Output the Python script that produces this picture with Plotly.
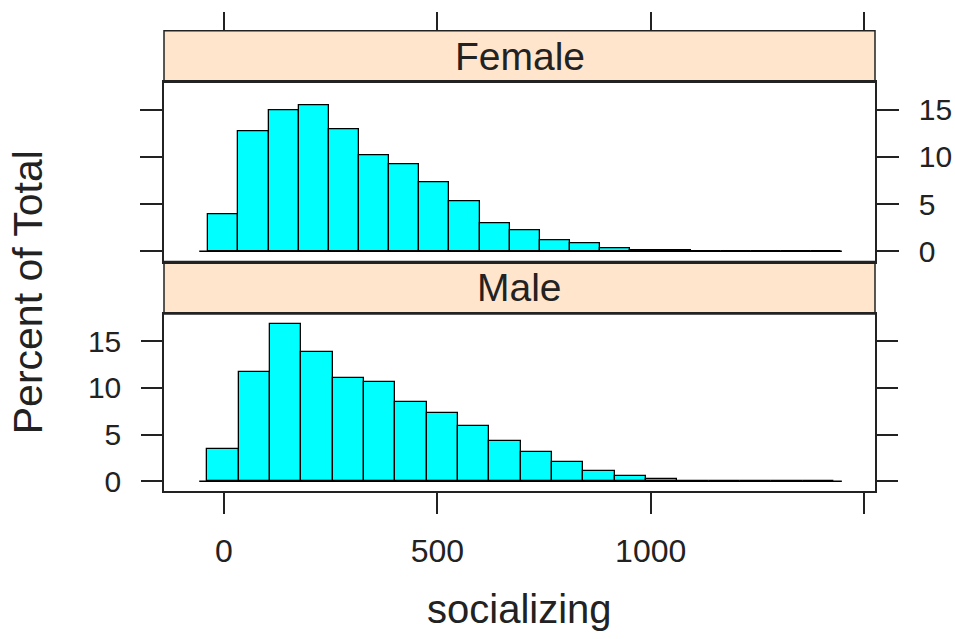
import plotly.graph_objects as go

# ---------------- data ----------------
female_first_edge = -36.8
female_bin_width = 70.66
female_pct = [3.92, 12.68, 14.90, 15.43, 12.92, 10.20, 9.25, 7.31, 5.33, 2.97,
              2.26, 1.13, 0.85, 0.32, 0.08, 0.08, 0.0, 0.05, 0.05, 0.05, 0.0]

male_first_edge = -39.1
male_bin_width = 73.45
male_pct = [3.43, 11.65, 16.83, 13.85, 11.04, 10.59, 8.49, 7.26, 5.90, 4.28,
            3.14, 2.11, 1.12, 0.51, 0.25, 0.0, 0.05, 0.05, 0.0, 0.0]

baseline_x = [-58, 1448]
panels = ["Female", "Male"]
x_tickvals = [0, 500, 1000, 1500]
x_ticktext = ["0", "500", "1000", ""]
y_tickvals = [0, 5, 10, 15]
x_title = "socializing"
y_title = "Percent of Total"

# ---------------- layout geometry (pixels -> paper) ----------------
W, H = 955, 639
def px(x): return x / W
def py(y): return 1 - y / H

X0, X1 = 164, 875
xdom = [px(X0), px(X1)]
xrange_ = [-140.6, 1525.7]
yrange_ = [-1.08, 17.9]

F_STRIP = (31, 83)
F_PANEL = (83, 264)
M_STRIP = (264, 317)
M_PANEL = (317, 496)

LINE = "#222222"
FONT = "Liberation Sans, Arial, Helvetica, sans-serif"

def centers(first, width, n):
    return [first + width * (i + 0.5) for i in range(n)]

fig = go.Figure()

bar_style = dict(marker=dict(color="#00FFFF", line=dict(color="black", width=1.3)),
                 showlegend=False, hoverinfo="x+y")

fig.add_trace(go.Bar(x=centers(female_first_edge, female_bin_width, len(female_pct)),
                     y=female_pct, width=female_bin_width, xaxis="x", yaxis="y", **bar_style))
fig.add_trace(go.Scatter(x=baseline_x, y=[0, 0], mode="lines", line=dict(color="black", width=1.6),
                         xaxis="x", yaxis="y", showlegend=False, hoverinfo="skip"))

fig.add_trace(go.Bar(x=centers(male_first_edge, male_bin_width, len(male_pct)),
                     y=male_pct, width=male_bin_width, xaxis="x2", yaxis="y2", **bar_style))
fig.add_trace(go.Scatter(x=baseline_x, y=[0, 0], mode="lines", line=dict(color="black", width=1.6),
                         xaxis="x2", yaxis="y2", showlegend=False, hoverinfo="skip"))

# invisible trace to make top tick axis exist
fig.add_trace(go.Scatter(x=[None], y=[None], xaxis="x3", yaxis="y", showlegend=False, hoverinfo="skip"))

axis_common = dict(showgrid=False, zeroline=False, showline=True, linecolor=LINE, linewidth=1.5,
                   tickcolor=LINE, tickwidth=1.5)

fig.update_layout(
    width=W, height=H,
    margin=dict(l=0, r=0, t=0, b=0),
    paper_bgcolor="white", plot_bgcolor="white",
    bargap=0,
    font=dict(family=FONT, color="#222222"),
    xaxis=dict(domain=xdom, range=xrange_, anchor="y", mirror=True, ticks="",
               showticklabels=False, **axis_common),
    yaxis=dict(domain=[py(F_PANEL[1]), py(F_PANEL[0])], range=yrange_, anchor="x",
               side="right", mirror="ticks", ticks="outside", ticklen=22,
               tickvals=y_tickvals, tickfont=dict(size=30, family=FONT, color="#222222"),
               ticklabelstandoff=14, **axis_common),
    xaxis2=dict(domain=xdom, range=xrange_, anchor="y2", mirror=True, ticks="outside",
                ticklen=21, tickvals=x_tickvals, ticktext=x_ticktext,
                tickfont=dict(size=32, family=FONT, color="#222222"),
                ticklabelstandoff=10, **axis_common),
    yaxis2=dict(domain=[py(M_PANEL[1]), py(M_PANEL[0])], range=yrange_, anchor="x2",
                side="left", mirror="ticks", ticks="outside", ticklen=21,
                tickvals=y_tickvals, tickfont=dict(size=30, family=FONT, color="#222222"),
                ticklabelstandoff=14, **axis_common),
    xaxis3=dict(overlaying="x", anchor="free", position=py(F_STRIP[0]), side="top",
                range=xrange_, ticks="outside", ticklen=19, tickvals=x_tickvals,
                showticklabels=False, showgrid=False, zeroline=False, showline=False,
                tickcolor=LINE, tickwidth=1.5),
)

shapes = []
for (y0, y1) in (F_STRIP, M_STRIP):
    shapes.append(dict(type="rect", xref="paper", yref="paper", x0=xdom[0], x1=xdom[1],
                       y0=py(y1), y1=py(y0), fillcolor="#FFE5CC",
                       line=dict(color=LINE, width=1.5), layer="below"))
fig.update_layout(shapes=shapes)

annotations = []
for name, (y0, y1) in zip(panels, (F_STRIP, M_STRIP)):
    annotations.append(dict(text=name, xref="paper", yref="paper",
                            x=(xdom[0] + xdom[1]) / 2, y=py((y0 + y1) / 2),
                            xanchor="center", yanchor="middle", showarrow=False,
                            font=dict(size=39, family=FONT, color="#222222")))
annotations.append(dict(text=x_title, xref="paper", yref="paper",
                        x=(xdom[0] + xdom[1]) / 2, y=0, xanchor="center", yanchor="bottom",
                        showarrow=False, font=dict(size=40, family=FONT, color="#222222")))
annotations.append(dict(text=y_title, xref="paper", yref="paper",
                        x=px(28), y=py(295), xanchor="center", yanchor="middle", textangle=-90,
                        showarrow=False, font=dict(size=41, family=FONT, color="#222222")))
fig.update_layout(annotations=annotations)

fig.write_html("out.html")
